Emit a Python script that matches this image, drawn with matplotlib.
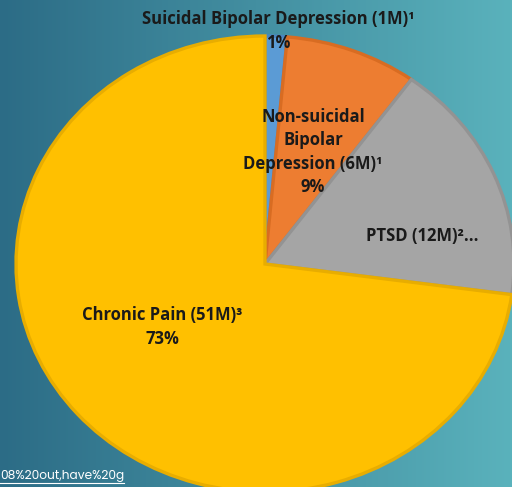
import numpy as np
import matplotlib
matplotlib.use("Agg")
import matplotlib.pyplot as plt
from matplotlib.lines import Line2D

# ---- data ----
categories = ["Suicidal Bipolar Depression", "Non-suicidal Bipolar Depression", "PTSD", "Chronic Pain"]
values_m = [1, 6, 12, 51]
label_texts = [
    "Suicidal Bipolar Depression (1M)\u00b9\n1%",
    "Non-suicidal\nBipolar\nDepression (6M)\u00b9\n9%",
    "PTSD (12M)\u00b2...",
    "Chronic Pain (51M)\u00b3\n73%",
]
colors = ["#5B9BD5", "#ED7D31", "#A5A5A5", "#FFC000"]
edge_colors = ["#4A86C0", "#D86C22", "#939393", "#E8AD00"]
footer_text = "08%20out,have%20g"

# ---- layout (pixel positions of label centres) ----
W, H = 512, 487
CX, CY, RX, RY = 265, 264, 249, 228
label_px = [(278, 31), (313, 152), (422, 236), (162, 327)]

def to_data(px, py):
    return (px - CX) / RX, (CY - py) / RY

plt.rcParams['font.family'] = ['Open Sans', 'DejaVu Sans']

fig = plt.figure(figsize=(W / 100, H / 100), dpi=100)

# background gradient
bg = fig.add_axes([0, 0, 1, 1])
bg.set_axis_off()
c1 = np.array([44, 108, 134]) / 255
c2 = np.array([90, 178, 188]) / 255
t = np.linspace(0, 1, 256)
grad = (c1[None, :] * (1 - t[:, None]) + c2[None, :] * t[:, None])[None, :, :]
bg.imshow(grad, aspect='auto', extent=[0, 1, 0, 1])
bg.set_xlim(0, 1)
bg.set_ylim(0, 1)

ax = fig.add_axes([0, 0, 1, 1])
ax.set_axis_off()
ax.patch.set_alpha(0)
wedges, _ = ax.pie(values_m, colors=colors, startangle=90, counterclock=False,
                   radius=1.0, wedgeprops=dict(linewidth=2.4))
for w, ec in zip(wedges, edge_colors):
    w.set_edgecolor(ec)
ax.set_aspect('auto')
ax.set_xlim(-CX / RX, (W - CX) / RX)
ax.set_ylim(-(H - CY) / RY, CY / RY)

for txt, (px, py) in zip(label_texts, label_px):
    x, y = to_data(px, py)
    ax.text(x, y, txt, ha='center', va='center', fontsize=12, fontweight='bold',
            color='#1a1a1a', linespacing=1.4)

ft = fig.text(0, 1 - 476 / H, footer_text, ha='left', va='center', fontsize=8.8,
              color='white', family=['Poppins', 'Lato', 'DejaVu Sans'])
fig.canvas.draw()
bb = ft.get_window_extent().transformed(fig.transFigure.inverted())
fig.add_artist(Line2D([bb.x0, bb.x1], [bb.y0 - 0.002, bb.y0 - 0.002], color='white',
                      lw=0.8, transform=fig.transFigure))

fig.savefig("out.png", dpi=100)
